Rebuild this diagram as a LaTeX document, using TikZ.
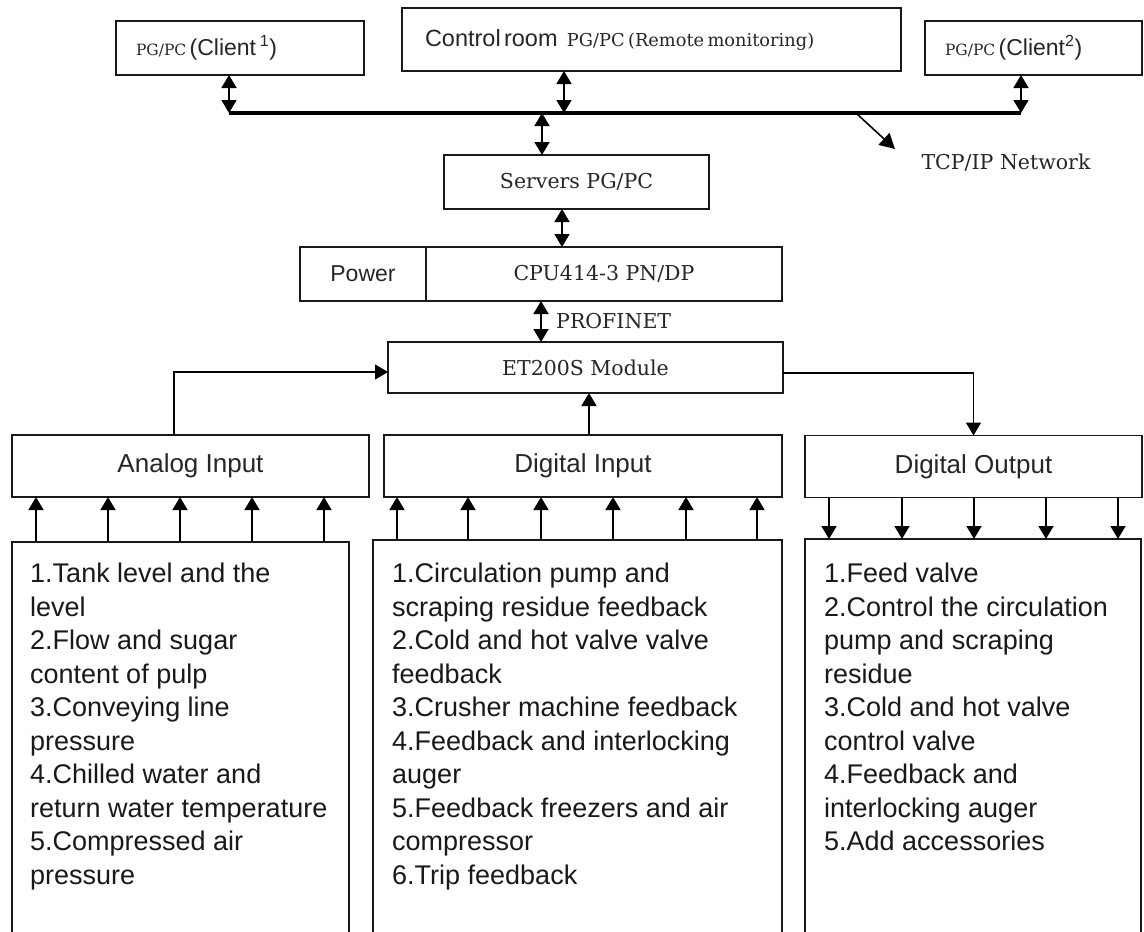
\documentclass[tikz,border=0pt]{standalone}
\usepackage{fontspec}
\setmainfont{Liberation Sans}
\newfontfamily\serf{DejaVu Serif}
\usetikzlibrary{arrows.meta}
\begin{document}
\begin{tikzpicture}[x=1pt,y=-1pt,
  box/.style={draw=black!90, line width=1.4pt, inner sep=0pt, outer sep=0pt},
  conn/.style={line width=1.6pt, draw=black},
  arr/.style={conn, -{Triangle[width=15pt,length=13pt]}},
  darr/.style={conn, {Triangle[width=15pt,length=13pt]}-{Triangle[width=15pt,length=13pt]}},
  sansbig/.style={font=\fontsize{26}{30}\selectfont, text=black!85},
  serifmid/.style={font=\serf\fontsize{20.5}{24}\selectfont, text=black!85},
  listtxt/.style={inner sep=0pt, align=left, anchor=north west, text=black!90, font=\fontsize{27}{33.5}\selectfont}
]
\useasboundingbox (0,0) rectangle (1144,932);
\clip (0,0) rectangle (1144,932);
\fill[white] (0,0) rectangle (1144,932);

% top row
\node[box, minimum width=248pt, minimum height=54pt, inner xsep=20pt, text width=208pt, align=left, text=black!85] (c1) at (240,48)
  {{\serf\fontsize{15.5}{18}\selectfont PG/PC} {\fontsize{23}{26}\selectfont(Client\,\textsuperscript{1})}};
\node[box, minimum width=499pt, minimum height=63pt, inner xsep=23pt, text width=453pt, align=left, text=black!85] (cr) at (651.5,39.5)
  {{\fontsize{23.5}{26}\selectfont Control room}\hspace{6pt} {\serf\fontsize{17.8}{21}\selectfont PG/PC (Remote monitoring)}};
\node[box, minimum width=217pt, minimum height=54pt, inner xsep=20pt, text width=177pt, align=left, text=black!85] (c2) at (1033.5,48)
  {{\serf\fontsize{15.5}{18}\selectfont PG/PC} {\fontsize{23}{26}\selectfont(Client\textsuperscript{2})}};

% bus
\coordinate (busL) at (229,113);
\coordinate (busM) at (564,113);
\coordinate (busS) at (542,113);
\coordinate (busR) at (1021,113);
\coordinate (tcpS) at (857,114);
\coordinate (tcpE) at (895,149);
\draw[line width=4.5pt] (busL) -- (busR);
\draw[darr] (c1.south -| busL) -- (busL);
\draw[darr] (cr.south -| busM) -- (busM);
\draw[darr] (c2.south -| busR) -- (busR);
\draw[conn, -{Triangle[width=16pt,length=15pt]}] (tcpS) -- (tcpE);
\node[serifmid, inner sep=0pt] (tcp) at (1006,163) {TCP/IP Network};

% servers and CPU
\node[box, serifmid, minimum width=265pt, minimum height=54pt] (srv) at (576.5,182) {Servers PG/PC};
\draw[darr] (busS) -- (srv.north -| busS);
\node[box, minimum width=126pt, minimum height=54pt, text=black!85, font=\fontsize{23}{26}\selectfont] (pw) at (363,274) {Power};
\node[box, serifmid, minimum width=356pt, minimum height=54pt] (cpu) at (604,274) {CPU414-3 PN/DP};
\coordinate (xs) at (562,0);
\draw[darr] (srv.south -| xs) -- (cpu.north -| xs);

% ET200S
\node[box, serifmid, minimum width=395pt, minimum height=51pt] (et) at (585.5,367.5) {ET200S Module};
\coordinate (xp) at (541,0);
\draw[darr] (cpu.south -| xp) -- (et.north -| xp);
\node[serifmid, inner sep=0pt, anchor=west] (pn) at (556,321) {PROFINET};

% modules
\node[box, sansbig, minimum width=357pt, minimum height=62pt] (ai) at (190.5,466) {Analog Input};
\node[box, sansbig, minimum width=398pt, minimum height=62pt] (di) at (583,466) {Digital Input};
\node[box, sansbig, minimum width=337pt, minimum height=62pt] (do) at (973.5,466.5) {Digital Output};

\coordinate (xa) at (174,0);
\coordinate (xd) at (589,0);
\draw[arr] (ai.north -| xa) |- ([yshift=-4.5pt]et.west);
\draw[arr] (di.north -| xd) -- (et.south -| xd);
\draw[arr] ([yshift=-5.5pt]et.east) -| (do.north);

% lower boxes
\node[box, anchor=north west, minimum width=337pt, minimum height=420pt] (l1) at (12,542) {};
\node[box, anchor=north west, minimum width=409pt, minimum height=420pt] (l2) at (373,540) {};
\node[box, anchor=north west, minimum width=336pt, minimum height=420pt] (l3) at (805,539) {};

\foreach \xx in {36,108,180,252,324} {
  \coordinate (tx) at (\xx,0);
  \draw[arr] (l1.north -| tx) -- (ai.south -| tx);
}
\foreach \xx in {397,468,541,613,686,757} {
  \coordinate (tx) at (\xx,0);
  \draw[arr] (l2.north -| tx) -- (di.south -| tx);
}
\foreach \xx in {829,902,974,1046,1118} {
  \coordinate (tx) at (\xx,0);
  \draw[arr] (do.south -| tx) -- (l3.north -| tx);
}

\node[listtxt] (t1) at (30,563) {1.Tank level and the\\level\\2.Flow and sugar\\content of pulp\\3.Conveying line\\pressure\\4.Chilled water and\\return water temperature\\5.Compressed air\\pressure};
\node[listtxt] (t2) at (392,563) {1.Circulation pump and\\scraping residue feedback\\2.Cold and hot valve valve\\feedback\\3.Crusher machine feedback\\4.Feedback and interlocking\\auger\\5.Feedback freezers and air\\compressor\\6.Trip feedback};
\node[listtxt] (t3) at (824,563) {1.Feed valve\\2.Control the circulation\\pump and scraping\\residue\\3.Cold and hot valve\\control valve\\4.Feedback and\\interlocking auger\\5.Add accessories};
\end{tikzpicture}
\end{document}
